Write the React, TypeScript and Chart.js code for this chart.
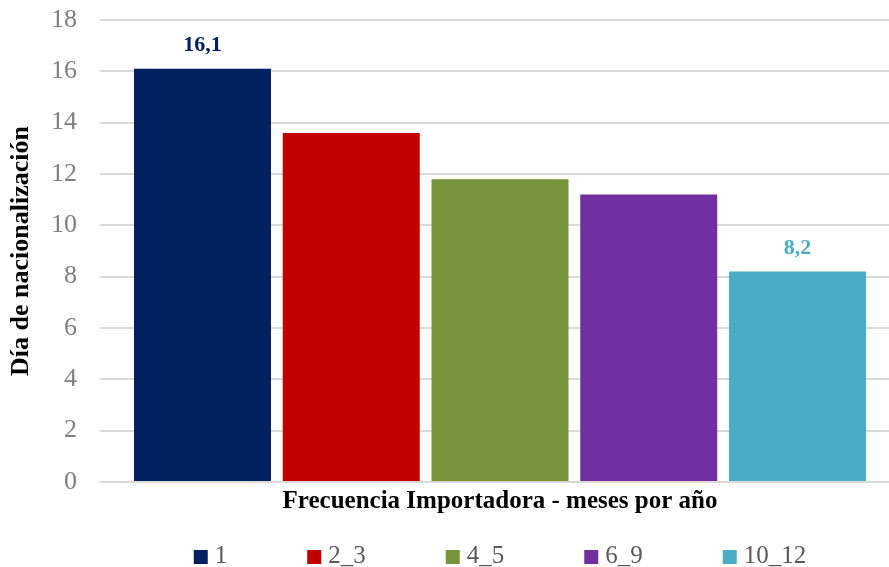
import React, { useEffect, useRef } from "react";
import { Chart, registerables } from "chart.js";

Chart.register(...registerables);

const seriesLabels = ["1", "2_3", "4_5", "6_9", "10_12"];
const seriesValues = [16.1, 13.6, 11.8, 11.2, 8.2];
const seriesColors = ["#002060", "#C00000", "#77933C", "#7030A0", "#4BACC6"];
const labeledSeries = [0, 4];
const yTicks = [0, 2, 4, 6, 8, 10, 12, 14, 16, 18];

const FONT = "'Liberation Serif', 'Times New Roman', serif";

const dataLabelPlugin = {
  id: "dataLabels",
  afterDatasetsDraw(chart: any) {
    const ctx = chart.ctx;
    ctx.save();
    ctx.font = `bold 22px ${FONT}`;
    ctx.textAlign = "center";
    ctx.textBaseline = "middle";
    labeledSeries.forEach((i) => {
      const meta = chart.getDatasetMeta(i);
      const bar = meta.data[0];
      if (!bar) return;
      ctx.fillStyle = seriesColors[i];
      const txt = String(seriesValues[i]).replace(".", ",");
      ctx.fillText(txt, bar.x, bar.y - 23);
    });
    ctx.restore();
  },
};

const legendPlugin = {
  id: "customLegend",
  afterDraw(chart: any) {
    const ctx = chart.ctx;
    const box = 14;
    const gapText = 7;
    const gapItem = 80;
    ctx.save();
    ctx.font = `25px ${FONT}`;
    ctx.textBaseline = "alphabetic";
    ctx.textAlign = "left";
    const widths = seriesLabels.map((t) => ctx.measureText(t).width);
    let total = 0;
    widths.forEach((w, i) => {
      total += box + gapText + w + (i < widths.length - 1 ? gapItem : 0);
    });
    const ca = chart.chartArea;
    let x = (ca.left + ca.right) / 2 - total / 2;
    const boxTop = 550;
    const baseline = 563;
    seriesLabels.forEach((t, i) => {
      ctx.fillStyle = seriesColors[i];
      ctx.fillRect(x, boxTop, box, box);
      ctx.fillStyle = "#595959";
      ctx.fillText(t, x + box + gapText, baseline);
      x += box + gapText + widths[i] + gapItem;
    });
    ctx.restore();
  },
};

export default function App() {
  const ref = useRef<HTMLCanvasElement | null>(null);

  useEffect(() => {
    document.body.style.margin = "0";
    document.body.style.overflow = "hidden";
    if (!ref.current) return;
    const chart = new Chart(ref.current, {
      type: "bar",
      data: {
        labels: [""],
        datasets: seriesLabels.map((l, i) => ({
          label: l,
          data: [seriesValues[i]],
          backgroundColor: seriesColors[i],
          borderWidth: 0,
          categoryPercentage: 0.9297,
          barPercentage: 0.921,
        })),
      },
      options: {
        animation: false,
        responsive: true,
        maintainAspectRatio: false,
        layout: { padding: { top: 20, right: 0, bottom: 50, left: 6 } },
        plugins: {
          legend: { display: false },
          tooltip: { enabled: false },
          title: { display: false },
        },
        scales: {
          x: {
            grid: { display: false, drawTicks: false },
            border: { display: true, color: "#D9D9D9", width: 2 },
            ticks: { display: false },
            title: {
              display: true,
              text: "Frecuencia Importadora - meses por año",
              color: "#000000",
              font: { family: FONT, size: 25, weight: "bold" },
              padding: { top: 5, bottom: 0 },
            },
          },
          y: {
            min: 0,
            max: 18,
            afterBuildTicks: (scale: any) => {
              scale.ticks = yTicks.map((v) => ({ value: v }));
            },
            afterFit: (scale: any) => {
              scale.width = 94;
              scale.paddingTop = 0;
              scale.paddingBottom = 0;
            },
            grid: { color: "#D9D9D9", lineWidth: 2, drawTicks: false },
            border: { display: false },
            ticks: {
              color: "#7F7F7F",
              padding: 23,
              font: { family: FONT, size: 26 },
            },
            title: {
              display: true,
              text: "Día de nacionalización",
              color: "#000000",
              font: { family: FONT, size: 26, weight: "bold" },
              padding: 0,
            },
          },
        },
      },
      plugins: [dataLabelPlugin, legendPlugin],
    });
    return () => chart.destroy();
  }, []);

  return (
    <div style={{ width: 889, height: 567, overflow: "hidden" }}>
      <div style={{ position: "relative", width: 900, height: 567 }}>
        <canvas ref={ref} />
      </div>
    </div>
  );
}
